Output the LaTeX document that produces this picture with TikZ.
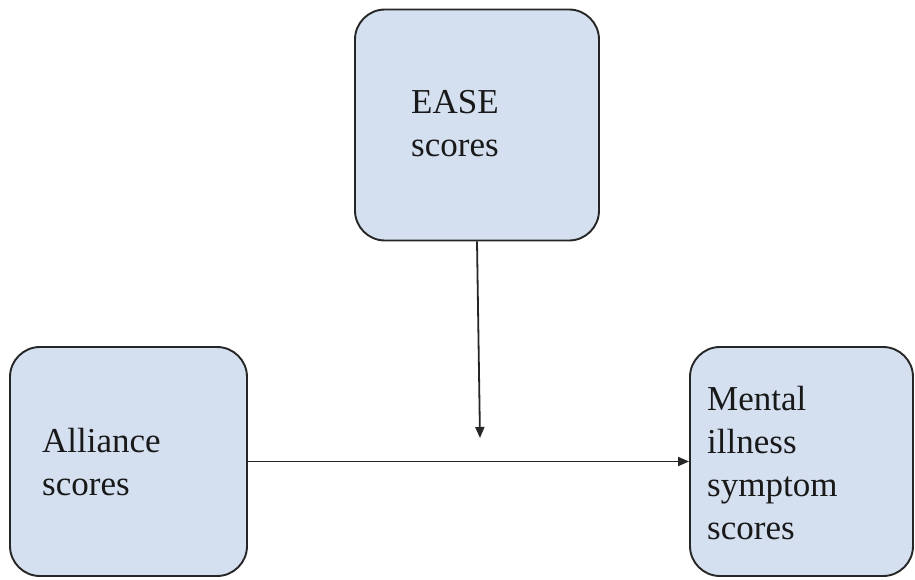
\documentclass[tikz,border=0pt]{standalone}
\usepackage{fontspec}
\setmainfont{Liberation Serif}
\usetikzlibrary{arrows.meta}
\definecolor{boxfill}{HTML}{D4E0F0}
\definecolor{boxline}{HTML}{262626}
\tikzset{
  box/.style={draw=boxline, fill=boxfill, line width=1.9pt, rounded corners=30pt, inner sep=0pt},
  lbl/.style={align=left, inner sep=0pt, anchor=west, font=\fontsize{35}{43}\selectfont, text=black!90},
  arr/.style={draw=black!85, line width=1.8pt, -{Triangle[length=11pt,width=9pt]}}
}
\begin{document}
\begin{tikzpicture}[x=1pt,y=-1pt]
\useasboundingbox (0,0) rectangle (915,579);
\node[box, minimum width=244pt, minimum height=231pt] (ease) at (477,125) {};
\node[box, minimum width=237pt, minimum height=229pt] (alli) at (128.5,461.5) {};
\node[box, minimum width=223pt, minimum height=229pt] (ment) at (801.5,461.5) {};
\node[lbl] (easet) at (411,124) {EASE\\scores};
\node[lbl] (allit) at (42,462) {Alliance\\scores};
\node[lbl] (mentt) at (707,463) {Mental\\illness\\symptom\\scores};
\coordinate (tip) at (480,438);
\draw[arr] (ease.south) -- (tip);
\draw[arr] (alli.east) -- (ment.west);
\end{tikzpicture}
\end{document}
